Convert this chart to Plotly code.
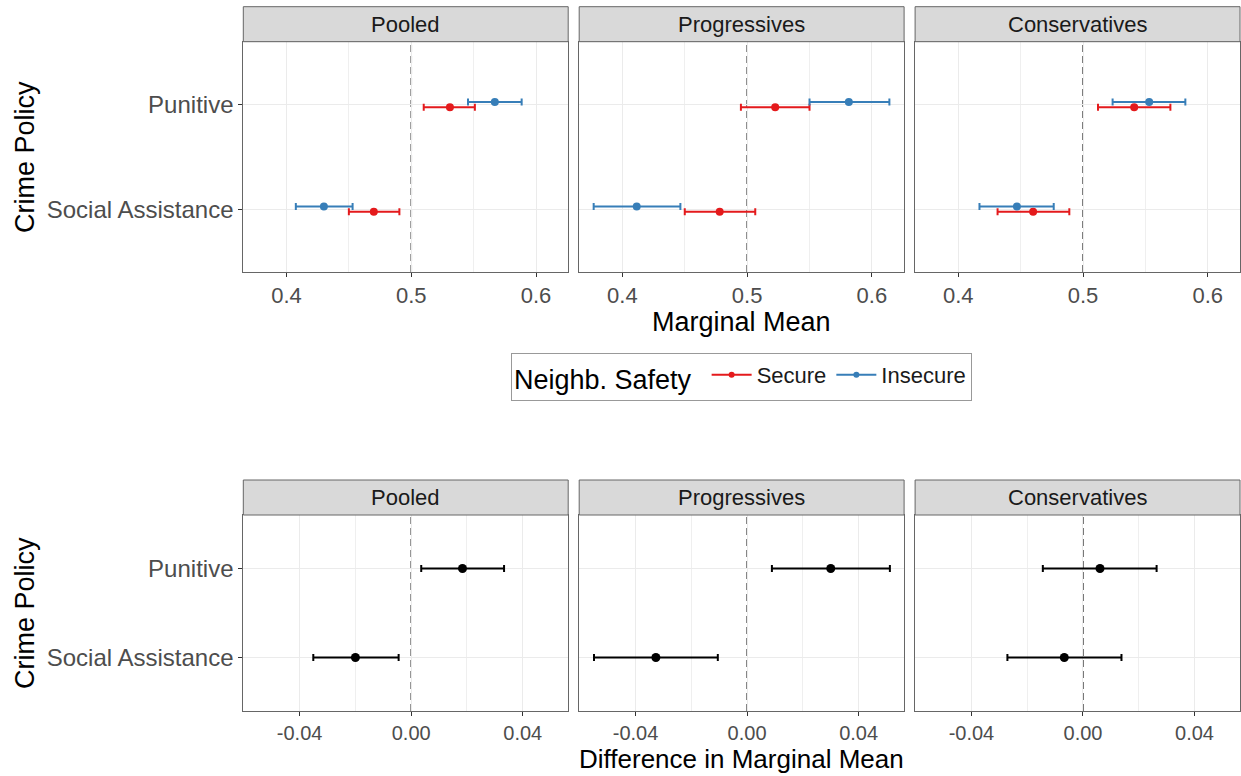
import plotly.graph_objects as go

# ---------------- data ----------------
panels = ["Pooled", "Progressives", "Conservatives"]
categories = ["Punitive", "Social Assistance"]
cat_pos = [2, 1]  # discrete axis positions (Punitive on top)

# Marginal means (per panel: [Punitive, Social Assistance])
secure_est = [[0.531, 0.470], [0.5225, 0.478], [0.541, 0.460]]
secure_lo = [[0.510, 0.450], [0.495, 0.450], [0.512, 0.4315]]
secure_hi = [[0.551, 0.4905], [0.550, 0.5065], [0.570, 0.489]]

insecure_est = [[0.567, 0.430], [0.5815, 0.4115], [0.553, 0.447]]
insecure_lo = [[0.5455, 0.4075], [0.550, 0.377], [0.5237, 0.417]]
insecure_hi = [[0.5885, 0.453], [0.614, 0.4465], [0.582, 0.4765]]

# Differences in marginal means
diff_est = [[0.0184, -0.0200], [0.0300, -0.0327], [0.0061, -0.0067]]
diff_lo = [[0.0036, -0.0351], [0.0089, -0.0549], [-0.0144, -0.0271]]
diff_hi = [[0.0333, -0.0045], [0.0512, -0.0105], [0.0264, 0.0138]]

top_ticks = [0.4, 0.5, 0.6]
top_ticktext = ["0.4", "0.5", "0.6"]
top_minor = [0.35, 0.45, 0.55]
bot_ticks = [-0.04, 0.0, 0.04]
bot_ticktext = ["-0.04", "0.00", "0.04"]
bot_minor = [-0.06, -0.02, 0.02]
top_ref = 0.5
bot_ref = 0.0

# ---------------- style ----------------
W, H = 1241, 776
FONT = "Liberation Sans, Arial, Helvetica, sans-serif"
RED = "#E41A1C"
BLUE = "#377EB8"
BORDER = "#666666"
GRID = "#EBEBEB"
MINOR = "#EFEFEF"
dodge = 0.025

panel_w = 324.9
gap = 11.0
left0 = 243.3
xdoms = []
for i in range(3):
    a = left0 + i * (panel_w + gap)
    xdoms.append([a / W, (a + panel_w) / W])

top_ydom = [1 - 272 / H, 1 - 41.7 / H]
bot_ydom = [1 - 711 / H, 1 - 515 / H]
top_strip = [1 - 41.7 / H, 1 - 6.7 / H]
bot_strip = [1 - 515 / H, 1 - 480 / H]

top_range = [0.3654, 0.6258]
bot_range = [-0.0602, 0.0563]
y_range = [0.4, 2.6]

fig = go.Figure()


def ax_name(idx):
    return "" if idx == 1 else str(idx)


def add_err_trace(xvals, lo, hi, yvals, color, idx, msize, name=None):
    fig.add_trace(go.Scatter(
        x=xvals, y=yvals, mode="markers",
        marker=dict(color=color, size=msize),
        error_x=dict(type="data", symmetric=False,
                     array=[h - v for h, v in zip(hi, xvals)],
                     arrayminus=[v - l for v, l in zip(xvals, lo)],
                     color=color, thickness=2, width=3.5),
        xaxis="x" + ax_name(idx), yaxis="y" + ax_name(idx),
        showlegend=False, name=name or "", hoverinfo="x+y"))


for i in range(3):
    idx = i + 1
    ys_sec = [p - dodge for p in cat_pos]
    ys_ins = [p + dodge for p in cat_pos]
    add_err_trace(secure_est[i], secure_lo[i], secure_hi[i], ys_sec, RED, idx, 8, "Secure")
    add_err_trace(insecure_est[i], insecure_lo[i], insecure_hi[i], ys_ins, BLUE, idx, 8, "Insecure")

for i in range(3):
    idx = i + 4
    add_err_trace(diff_est[i], diff_lo[i], diff_hi[i], cat_pos, "black", idx, 9)

# legend-only traces
fig.add_trace(go.Scatter(x=[None], y=[None], mode="lines+markers", name="Secure",
                         line=dict(color=RED, width=2), marker=dict(color=RED, size=6)))
fig.add_trace(go.Scatter(x=[None], y=[None], mode="lines+markers", name="Insecure",
                         line=dict(color=BLUE, width=2), marker=dict(color=BLUE, size=6)))

layout = dict(
    width=W, height=H, margin=dict(l=0, r=0, t=0, b=0),
    paper_bgcolor="white", plot_bgcolor="white",
    font=dict(family=FONT, color="#1A1A1A"),
    showlegend=True,
    legend=dict(orientation="h", x=741.5 / W, y=1 - 377 / H,
                xanchor="center", yanchor="middle",
                title=dict(text="Neighb. Safety ", font=dict(size=27, color="black")),
                font=dict(size=22, color="#1A1A1A"),
                bordercolor="#999999", borderwidth=1, bgcolor="white",
                itemwidth=40),
)

shapes = []
annotations = []
for idx in range(1, 7):
    col = (idx - 1) % 3
    top = idx <= 3
    xa = dict(
        domain=xdoms[col], anchor="y" + ax_name(idx),
        range=top_range if top else bot_range,
        tickvals=top_ticks if top else bot_ticks,
        ticktext=top_ticktext if top else bot_ticktext,
        tickfont=dict(size=22 if top else 20, color="#4D4D4D", family=FONT),
        ticks="outside", ticklen=4, tickcolor="#333333", tickwidth=1,
        showgrid=True, gridcolor=GRID, gridwidth=1.2,
        minor=dict(tickvals=top_minor if top else bot_minor, showgrid=True,
                   gridcolor=MINOR, gridwidth=1, ticks=""),
        zeroline=False, showline=True, mirror=True,
        linecolor=BORDER, linewidth=1, fixedrange=True,
    )
    ya = dict(
        domain=top_ydom if top else bot_ydom, anchor="x" + ax_name(idx),
        range=y_range, tickvals=cat_pos, ticktext=categories,
        tickfont=dict(size=24, color="#4D4D4D", family=FONT),
        ticks="outside" if col == 0 else "", ticklen=4, tickcolor="#333333",
        showticklabels=(col == 0),
        showgrid=True, gridcolor=GRID, gridwidth=1.2,
        zeroline=False, showline=True, mirror=True,
        linecolor=BORDER, linewidth=1, fixedrange=True,
    )
    layout["xaxis" + ax_name(idx)] = xa
    layout["yaxis" + ax_name(idx)] = ya

    # reference dashed line
    shapes.append(dict(type="line", xref="x" + ax_name(idx), yref="y" + ax_name(idx) + " domain",
                       x0=top_ref if top else bot_ref, x1=top_ref if top else bot_ref,
                       y0=0, y1=1, line=dict(color="#555555", width=1.6, dash="7px,4px"),
                       layer="below"))
    # strip
    sy = top_strip if top else bot_strip
    shapes.append(dict(type="rect", xref="paper", yref="paper",
                       x0=xdoms[col][0], x1=xdoms[col][1], y0=sy[0], y1=sy[1],
                       fillcolor="#D9D9D9", line=dict(color=BORDER, width=1), layer="above"))
    annotations.append(dict(text=panels[col], xref="paper", yref="paper",
                            x=(xdoms[col][0] + xdoms[col][1]) / 2, y=(sy[0] + sy[1]) / 2,
                            xanchor="center", yanchor="middle", showarrow=False,
                            font=dict(size=22, color="#1A1A1A", family=FONT)))

# axis titles
annotations.append(dict(text="Marginal Mean", xref="paper", yref="paper",
                        x=741.5 / W, y=1 - 322 / H, xanchor="center", yanchor="middle",
                        showarrow=False, font=dict(size=27, color="black", family=FONT)))
annotations.append(dict(text="Difference in Marginal Mean", xref="paper", yref="paper",
                        x=741.5 / W, y=1 - 759 / H, xanchor="center", yanchor="middle",
                        showarrow=False, font=dict(size=26, color="black", family=FONT)))
for yc in [157, 613]:
    annotations.append(dict(text="Crime Policy", xref="paper", yref="paper",
                            x=25 / W, y=1 - yc / H, xanchor="center", yanchor="middle",
                            textangle=-90, showarrow=False,
                            font=dict(size=27, color="black", family=FONT)))

layout["shapes"] = shapes
layout["annotations"] = annotations
fig.update_layout(**layout)
fig.write_html("out.html")
